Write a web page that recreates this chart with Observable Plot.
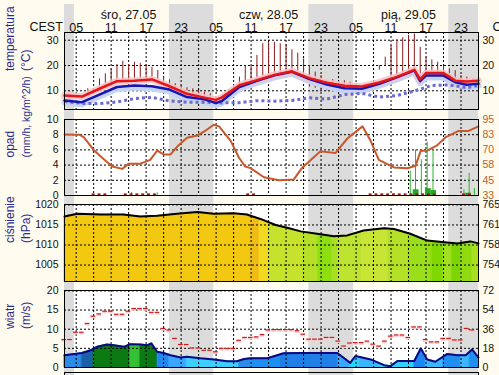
<!DOCTYPE html>
<html><head><meta charset="utf-8">
<script src="https://cdn.jsdelivr.net/npm/d3@7"></script>
<script src="https://cdn.jsdelivr.net/npm/@observablehq/plot@0.6"></script>
<style>
html,body{margin:0;padding:0;background:#fffbef;overflow:hidden;}
#chart{position:relative;width:499px;height:375px;overflow:hidden;}
</style></head><body><div id="chart"></div><script>
// ---------- time axis (hours since 27.05 00:00 CEST) ----------
const X_DOMAIN = [3, 74];
const nightStart = [3, 21, 44.9, 68.9];
const nightEnd = [4.7, 28.6, 52.6, 74];
const gridHours = [5,8,11,14,17,20,23,26,29,32,35,38,41,44,47,50,53,56,59,62,65,68,71];
const hourTicks = [5,11,17,23,29,35,41,47,53,59,65,71];
const hourLabels = ["05","11","17","23","05","11","17","23","05","11","17","23"];
const dayTicks = [14, 38, 62];
const dayLabels = ["śro, 27.05", "czw, 28.05", "pią, 29.05"];

// ---------- temperature ----------
const tempTicks = [10, 20, 30];
const tempHours = [3,6,9,12,15,18,21,24,27,29,30,33,36,39,42,45,48,51,54,57,60,63,64,65,68,70,72,74];
const tempRed  = [8.1,7.7,10.8,13.8,14.0,14.5,11.8,8.8,7.3,6.4,7.4,12.2,14.2,16.3,17.7,15.0,13.2,12.0,11.7,13.3,15.5,18.3,14.5,17.0,17.0,14.0,13.7,14.0];
const tempBlue = [6.2,5.5,8.5,11.5,12.1,11.8,10.5,7.5,6.6,5.1,6.0,11.5,13.9,16.1,17.5,14.6,12.5,11.0,10.8,12.8,15.3,18.1,13.8,16.0,16.0,13.4,12.4,12.8];
const dewHours = [3,6,9,12,15,18,21,24,27,30,33,36,39,42,45,48,51,54,57,60,63,66,69,72,74];
const dewPoint = [5.8,5.0,4.9,5.6,6.9,7.4,6.0,5.5,5.5,5.2,5.3,6.1,5.9,6.2,7.2,6.7,8.5,9.0,7.5,8.1,9.9,12.1,12.3,11.2,12.1];
const rangeHours = [7,9,10,11,12,13,14,15,16,17,18,19,20,21,22,23,24,25,26,27,28,32,33,34,35,36,37,38,39,40,41,42,43,44,45,46,47,48,49,50,51,52,53,54,57,58,59,60,61,62,63,64,65,66,67,68,69,70,71,72,73];
const rangeLow  = [8.8,10.5,11,11.5,13,13.5,14,14,14.2,14.5,14.3,14,13.3,11.8,10.5,9.5,8.9,8.5,8,7.5,7,10.5,12,13,14,14.5,15,15.5,16,16.5,17,17.5,17.5,17,11.5,11,10.5,10,10,10,10.5,10.5,10.5,11,18.2,20,15.5,16,16.5,17.5,18,14,16.5,16.5,16.5,16.5,15,14,13.5,13.5,13.5];
const rangeHigh = [10.8,14.7,16.7,18.7,20.4,21.7,20.4,21.3,20.9,20.4,19.3,18,15.4,14.3,12.8,12.1,11.2,10.8,10.1,9.4,8.8,11.7,15.4,20,19.6,24,28.6,29.2,29.2,28.6,28.3,26.2,24.9,22.6,20,17.4,16,14,14.4,13.4,14,13.4,12.8,11.7,20,23.3,27.9,30.2,31,31.9,32.5,27.2,23.3,22.2,21.3,20,18.7,18,16,15.4,14.7];

// ---------- precipitation / humidity ----------
const precipTicks = [0, 2, 4, 6, 8, 10];
const humidityLabels = ["33", "45", "58", "70", "83", "95"];
const humHours = [3,5.5,6.3,8,9.7,11.2,12.9,14,16,17.7,18.9,20,21.2,22.3,24,25.8,27.2,28.6,29.5,31.5,32.9,34,34.9,37.2,39.8,42.3,43.8,46.9,49.5,51.5,54.1,55.5,56.9,59.5,61.8,63.2,64.1,65.2,66.9,68.4,70.6,72.3,74];
const humidity = [82.8,82.6,80.7,70.2,62.8,56.6,54.7,59.0,59.0,62.1,69.6,66.5,66.5,72.7,80.1,82.0,86.0,90.7,89.4,77.6,64.0,56.6,55.3,47.9,45.4,46.0,55.9,69.0,67.7,79.5,89.4,77.6,62.1,55.9,55.3,57.2,69.6,69.6,73.9,80.7,85.7,85.7,89.4];
const rainHours = [14.5,17.2,18.9,62.3,63.2,64.2,65.2,66.2,71.5,72.4,73.3];
const rainMax   = [0.4,0.3,0.35,3.2,6.0,4.7,7.0,6.0,0.75,2.9,0.9];
const rainBarStart = [62.8, 64.9, 65.9, 71.8];
const rainBarEnd   = [63.8, 65.9, 66.8, 72.8];
const rainBar      = [0.75, 0.9, 0.65, 0.3];
const rainMarkHours = [8,9,10,13.5,14.5,15.5,16.5,17.5,18.5,34.5,35.5,55.5,56.5,57.5,58.5,59.5,60.5,61.5,62.5,63.5,64.5,65.5,66.5,71.5,72.5];

// ---------- pressure ----------
const presTicks = [1005, 1010, 1015, 1020];
const presMmLabels = ["754", "758", "761", "765"];
const presHours = [3,5.2,9.2,13.1,16,18.9,22.3,25.8,28.6,32,34.3,34.9,36.6,39.2,41.2,43.5,46.3,49.2,51.5,54.3,57.8,59.5,62.3,65.2,68.1,70.4,72.6,74];
const pressure = [1017.1,1017.8,1017.6,1017.6,1017.1,1017.3,1017.8,1018.2,1017.8,1017.9,1017.6,1017.3,1016.5,1015.0,1014.3,1013.4,1012.8,1012.2,1012.4,1013.6,1014.2,1014.0,1012.8,1011.1,1010.7,1010.4,1010.9,1010.4];
const presColStart = [3,35,36.5,38,44,46.5,49,50,54,58.5,62,66,68,69.5,71,73];
const presColEnd   = [35,36.5,38,44,46.5,49,50,54,58.5,62,66,68,69.5,71,73,74];
const presColor = ["#f2c811","#f0bc16","#f3d820","#c6e22c","#b6e028","#8ede10","#a8e020","#bee230","#c8e434","#b4e028","#9ade1c","#80d800","#a0e020","#7cd400","#90dc10","#a8e020"];

// ---------- wind ----------
const windTicks = [0, 5, 10, 15, 20];
const windKmhLabels = ["0", "18", "36", "54", "72"];
const windHours = [3,6,7.5,8.6,10.3,11.5,13.2,14.3,16,17.2,17.9,18.9,20,21.2,22.9,24,26.3,28.6,30.9,32.6,33.8,34.9,37.8,40.6,43.5,46.3,49.8,52,52.9,55.5,57.8,58.9,60.1,63,64.1,65.2,66.6,68.6,70.4,71.8,72.9,74];
const windSpeed = [3.2,3.8,4.5,5.4,6.0,5.8,5.4,6.1,6.0,5.8,6.3,4.1,3.8,3.2,2.6,2.8,2.4,2.1,1.65,1.65,2.2,2.4,2.4,3.7,3.8,3.8,3.8,1.2,3.0,2.1,0.6,0.35,1.7,1.7,5.0,2.1,1.5,3.5,3.2,3.2,4.7,2.6];
const gustHours = [3,4,5,6,7,8,9,10,11,12,13,14,15,16,17,18,19,20,21,22,23,24,25,26,27,28,29,30,31,32,33,34,35,36,37,38,39,40,41,42,43,44,45,46,47,48,49,50,51,52,53,54,55,56,57,58,59,60,61,62,63,64,65,66,67,68,69,70,71,72,73];
const gust = [7.3,7.3,9.2,9.2,11.5,13.4,14.0,14.7,14.7,13.9,13.9,14.7,15.4,15.4,15.4,14.4,14.4,10.2,9.8,7.6,6.0,6.0,5.1,5.1,4.5,4.5,4.1,5.0,5.0,5.0,7.1,7.85,7.85,8.0,8.6,9.8,9.9,9.9,9.9,9.9,9.6,8.7,7.4,7.4,7.4,7.85,7.85,6.9,5.6,6.4,6.5,6.5,6.9,6.1,5.6,6.9,8.2,8.5,8.5,7.85,10.6,10.6,7.3,6.7,6.7,7.6,7.6,7.2,7.2,10.2,9.8];
const windColStart = [3,6,8,14.3,16,19,21,24,33,35,40,50,52,53.5,57,63,65,68,71,72.5];
const windColEnd   = [6,8,14.3,16,19,21,24,33,35,40,50,52,53.5,57,63,65,68,71,72.5,74];
const windColor = ["#2a8be8","#1a5fa8","#0b7a12","#33c233","#0b7a12","#2088ee","#3aa6ff","#3ccfff","#2a8be8","#2090f0","#1f7fe6","#3aa6ff","#22d8ff","#3ab8ff","#33d0ff","#1e84f0","#3ab8ff","#2090f0","#3ab8ff","#2090f0"];

// ---------- build tables ----------
const zip = (keys, ...cols) => cols[0].map((_, i) => Object.fromEntries(keys.map((k, j) => [k, cols[j][i]])));
const nights = zip(["s","e"], nightStart, nightEnd);
const tempData = zip(["h","red","blue"], tempHours, tempRed, tempBlue);
const dewData = zip(["h","v"], dewHours, dewPoint);
const rangeData = zip(["h","lo","hi"], rangeHours, rangeLow, rangeHigh);
const humData = zip(["h","v"], humHours, humidity);
const rainData = zip(["h","v"], rainHours, rainMax);
const rainBars = zip(["s","e","v"], rainBarStart, rainBarEnd, rainBar);
const presData = zip(["h","p"], presHours, pressure);
const presRuns = zip(["s","e","c"], presColStart, presColEnd, presColor);
const windData = zip(["h","v"], windHours, windSpeed);
const gustData = zip(["h","g"], gustHours, gust);
const windRuns = zip(["s","e","c"], windColStart, windColEnd, windColor);
const hours = zip(["h","t"], hourTicks, hourLabels);
const days = zip(["h","t"], dayTicks, dayLabels);

// colour runs cut along the data line (piecewise linear through the read points)
function runSegments(runs, hrs, vals) {
  const at = d3.scaleLinear(hrs, vals);
  return runs.flatMap((r, i) => {
    const hs = [r.s, ...hrs.filter(h => h > r.s && h < r.e), r.e];
    return hs.map(h => ({h, v: at(h), run: i, c: r.c}));
  });
}
const presSegs = runSegments(presRuns, presHours, pressure);
const windSegs = runSegments(windRuns, windHours, windSpeed);

const FONT = '"Liberation Sans", Arial, Helvetica, sans-serif';
const NAVY = "#2a2a8e";
const GRAY = "#dcdcdc";
const chart = document.getElementById("chart");
function place(svg, top) {
  svg.style.position = "absolute"; svg.style.left = "0px"; svg.style.top = top + "px";
  chart.appendChild(svg);
}

// ---------- background + header ----------
const bg = Plot.plot({
  width: 499, height: 375, marginLeft: 64, marginRight: 21, marginTop: 4, marginBottom: 0,
  x: {domain: X_DOMAIN, axis: null},
  style: {background: "#fffbef", fontFamily: FONT, fontSize: "12px", color: "#111"},
  marks: [
    Plot.rect(nights, {x1: "s", x2: "e", fill: GRAY}),
    Plot.text(days, {x: "h", text: "t", frameAnchor: "top", dy: 6, fontSize: 12.5, fill: "#111"}),
    Plot.text(hours, {x: "h", text: "t", frameAnchor: "top", dy: 19, fontSize: 12.5, fill: "#111"}),
    Plot.text(["CEST"], {text: d => d, frameAnchor: "top-left", dx: -35, dy: 18, fontSize: 12.5, fill: "#111"}),
    Plot.text(["CEST"], {text: d => d, frameAnchor: "top-right", dx: 14, dy: 18, textAnchor: "start", fontSize: 12.5, fill: "#111"})
  ]
});
place(bg, 0);

// ---------- panel helper ----------
function panel(boxTop, boxBottom, yDomain, marks) {
  const m = 8;
  const svg = Plot.plot({
    width: 499, height: boxBottom - boxTop + 2 * m,
    marginLeft: 64, marginRight: 21, marginTop: m, marginBottom: m,
    x: {domain: X_DOMAIN, axis: null},
    y: {domain: yDomain},
    color: {type: "identity"},
    style: {background: "transparent", fontFamily: FONT, fontSize: "10.5px", color: "#111", overflow: "visible"},
    marks
  });
  place(svg, boxTop - m);
  return svg;
}
const base = () => [
  Plot.frame({fill: "white", stroke: "none"}),
  Plot.rect(nights, {x1: "s", x2: "e", fill: GRAY})
];
const vgrid = () => Plot.ruleX(gridHours, {stroke: "#000", strokeDasharray: "2,2", strokeWidth: 1});
const hgrid = (t) => Plot.ruleY(t, {stroke: "#000", strokeDasharray: "2,2", strokeWidth: 1});
const border = () => Plot.frame({stroke: "#000", strokeWidth: 1, fill: "none"});
const titles = (a, b, sb) => [
  Plot.text([a], {text: d => d, frameAnchor: "left", dx: -54, rotate: -90, fill: NAVY, fontSize: 12}),
  Plot.text([b], {text: d => d, frameAnchor: "left", dx: -38, rotate: -90, fill: NAVY, fontSize: sb || 12})
];
const leftAxis = (ticks) => Plot.axisY(ticks, {anchor: "left", tickSize: 0, tickPadding: 6, label: null, tickFormat: d => String(d), fill: "#111"});
const rightAxis = (ticks, labels, color) => Plot.axisY(ticks, {anchor: "right", tickSize: 0, tickPadding: 4, label: null, tickFormat: d => labels[ticks.indexOf(d)], fill: color || "#111"});

// ---------- temperature panel ----------
panel(32, 109, [2.6, 33.05], [
  ...base(),
  vgrid(), hgrid(tempTicks),
  Plot.ruleX(rangeData, {x: "h", y1: "lo", y2: "hi", stroke: "#8b1c1c", strokeWidth: 1}),
  Plot.line(tempData, {x: "h", y: "blue", stroke: "#c6d3f4", strokeWidth: 6, dy: 2}),
  Plot.line(tempData, {x: "h", y: "red", stroke: "#f7c4c4", strokeWidth: 7, strokeOpacity: 0.85}),
  Plot.line(dewData, {x: "h", y: "v", stroke: "#6a6ad0", strokeWidth: 3, strokeDasharray: "3,3", strokeLinecap: "butt"}),
  Plot.line(tempData, {x: "h", y: "blue", stroke: "#1616b4", strokeWidth: 2.5}),
  Plot.line(tempData, {x: "h", y: "red", stroke: "#e8141c", strokeWidth: 2.5}),
  border(),
  leftAxis(tempTicks), rightAxis(tempTicks, tempTicks.map(String)),
  ...titles("temperatura", "(°C)")
]);

// ---------- precipitation panel ----------
panel(119, 195, [0, 10], [
  ...base(),
  vgrid(), hgrid(precipTicks.slice(1)),
  Plot.line(humData, {x: "h", y: d => (d.v - 33) / 6.2, stroke: "#c8582a", strokeWidth: 2}),
  Plot.ruleX(rainData, {x: "h", y1: 0, y2: "v", stroke: "#2db52d", strokeWidth: 1}),
  Plot.rect(rainBars, {x1: "s", x2: "e", y1: 0, y2: "v", fill: "#22a822"}),
  Plot.ruleY(rainMarkHours, {y: 0.15, x1: d => d - 0.25, x2: d => d + 0.25, stroke: "#a01818", strokeWidth: 2, strokeLinecap: "butt"}),
  border(),
  leftAxis(precipTicks), rightAxis(precipTicks, humidityLabels, "#c0602a"),
  ...titles("opad", "(mm/h, kg/m^2/h)", 10.5)
]);

// ---------- pressure panel ----------
const PRES_DOMAIN = [1000.9, 1020.1];
panel(204, 281, PRES_DOMAIN, [
  ...base(),
  Plot.area(presSegs, {x1: "h", y1: () => PRES_DOMAIN[0], y2: "v", z: "run", fill: "c", stroke: "c", strokeWidth: 0.6}),
  vgrid(), hgrid(presTicks),
  Plot.line(presData, {x: "h", y: "p", stroke: "#000", strokeWidth: 2}),
  border(),
  leftAxis(presTicks), rightAxis(presTicks, presMmLabels),
  ...titles("ciśnienie", "(hPa)")
]);

// ---------- wind panel ----------
panel(290, 367, [0, 20.1], [
  ...base(),
  Plot.area(windSegs, {x1: "h", y1: () => 0, y2: "v", z: "run", fill: "c", stroke: "c", strokeWidth: 0.6}),
  vgrid(), hgrid(windTicks.slice(1)),
  Plot.ruleY(gustData, {y: "g", x1: d => d.h - 0.45, x2: d => d.h + 0.35, stroke: "#f8cccc", strokeWidth: 2, dy: 1.2, strokeLinecap: "butt"}),
  Plot.ruleY(gustData, {y: "g", x1: d => d.h - 0.45, x2: d => d.h + 0.35, stroke: "#d01818", strokeWidth: 1.2, strokeLinecap: "butt"}),
  Plot.line(windData, {x: "h", y: "v", stroke: "#0a0a80", strokeWidth: 2}),
  border(),
  leftAxis(windTicks), rightAxis(windTicks, windKmhLabels),
  ...titles("wiatr", "(m/s)")
]);

// ---------- next panel (cut off at bottom) ----------
const nextSvg = Plot.plot({
  width: 499, height: 30, marginLeft: 64, marginRight: 21, marginTop: 0, marginBottom: 0,
  x: {domain: X_DOMAIN, axis: null},
  style: {background: "transparent"},
  marks: [...base(), border()]
});
place(nextSvg, 372);
</script></body></html>
